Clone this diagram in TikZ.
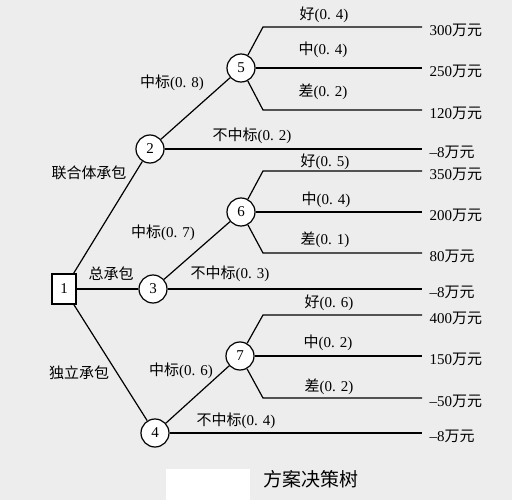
\documentclass[tikz,border=0pt]{standalone}
\usepackage{fontspec}
\setmainfont{Liberation Serif}
\newfontfamily\cjk{Noto Sans CJK SC}
\usetikzlibrary{positioning}

\begin{document}
\begin{tikzpicture}[x=1pt,y=-1pt,line width=1.2pt,font=\fontsize{15}{17}\selectfont,
  chance/.style={draw, circle, minimum size=28pt, inner sep=0pt, fill=white},
  decision/.style={draw, rectangle, minimum width=24pt, minimum height=30pt, inner sep=0pt, fill=white},
  pay/.style={anchor=west, yshift=-3pt, xshift=5pt, inner sep=2pt}]
	\useasboundingbox (0,0) rectangle (512,500);
	\fill[black!7] (0,0) rectangle (512,500);
	\fill[white] (166,469) rectangle (250,500);

	% nodes
	\node[decision] (n1) at (64,289) {1};
	\node[chance] (n2) at (150,149) {2};
	\node[chance] (n3) at (153,289) {3};
	\node[chance] (n4) at (155,433) {4};
	\node[chance] (n5) at (241,68) {5};
	\node[chance] (n6) at (241,212) {6};
	\node[chance] (n7) at (240,356) {7};

	% end points
	\coordinate (e1) at (422,27);
	\coordinate (e2) at (422,68);
	\coordinate (e3) at (422,110);
	\coordinate (e4) at (422,149);
	\coordinate (e5) at (422,171);
	\coordinate (e6) at (422,212);
	\coordinate (e7) at (422,253);
	\coordinate (e8) at (422,289);
	\coordinate (e9) at (422,315);
	\coordinate (e10) at (422,356);
	\coordinate (e11) at (422,398);
	\coordinate (e12) at (422,433);

	% branches
	\draw (n1) -- (n2);
	\draw (n1) -- (n3);
	\draw (n1) -- (n4);
	\draw (n2) -- (n5);
	\draw (n2) -- (e4);
	\draw (n3) -- (n6);
	\draw (n3) -- (e8);
	\draw (n4) -- (n7);
	\draw (n4) -- (e12);
	\draw (n5) -- (263,27) -- (e1);
	\draw (n5) -- (e2);
	\draw (n5) -- (263,110) -- (e3);
	\draw (n6) -- (263,171) -- (e5);
	\draw (n6) -- (e6);
	\draw (n6) -- (263,253) -- (e7);
	\draw (n7) -- (263,315) -- (e9);
	\draw (n7) -- (e10);
	\draw (n7) -- (263,398) -- (e11);

	% payoffs
	\node[pay] (p1) at (e1) {300{\cjk 万元}};
	\node[pay] (p2) at (e2) {250{\cjk 万元}};
	\node[pay] (p3) at (e3) {120{\cjk 万元}};
	\node[pay] (p4) at (e4) {--8{\cjk 万元}};
	\node[pay] (p5) at (e5) {350{\cjk 万元}};
	\node[pay] (p6) at (e6) {200{\cjk 万元}};
	\node[pay] (p7) at (e7) {80{\cjk 万元}};
	\node[pay] (p8) at (e8) {--8{\cjk 万元}};
	\node[pay] (p9) at (e9) {400{\cjk 万元}};
	\node[pay] (p10) at (e10) {150{\cjk 万元}};
	\node[pay] (p11) at (e11) {--50{\cjk 万元}};
	\node[pay] (p12) at (e12) {--8{\cjk 万元}};

	% labels
	\node (l1) at (89,173) {\cjk 联合体承包};
	\node (l2) at (111,274) {\cjk 总承包};
	\node (l3) at (79,373) {\cjk 独立承包};
	\node (l4) at (172,83) {{\cjk 中标}(0. 8)};
	\node (l5) at (252,136) {{\cjk 不中标}(0. 2)};
	\node (l6) at (163,233) {{\cjk 中标}(0. 7)};
	\node (l7) at (230,274) {{\cjk 不中标}(0. 3)};
	\node (l8) at (181,371) {{\cjk 中标}(0. 6)};
	\node (l9) at (236,421) {{\cjk 不中标}(0. 4)};
	\node (l10) at (324,15) {{\cjk 好}(0. 4)};
	\node (l11) at (323,50) {{\cjk 中}(0. 4)};
	\node (l12) at (323,92) {{\cjk 差}(0. 2)};
	\node (l13) at (325,162) {{\cjk 好}(0. 5)};
	\node (l14) at (326,200) {{\cjk 中}(0. 4)};
	\node (l15) at (325,240) {{\cjk 差}(0. 1)};
	\node (l16) at (329,303) {{\cjk 好}(0. 6)};
	\node (l17) at (328,343) {{\cjk 中}(0. 2)};
	\node (l18) at (329,387) {{\cjk 差}(0. 2)};

	\node[font=\fontsize{19}{21}\selectfont] (title) at (311,479) {\cjk 方案决策树};
\end{tikzpicture}
\end{document}
